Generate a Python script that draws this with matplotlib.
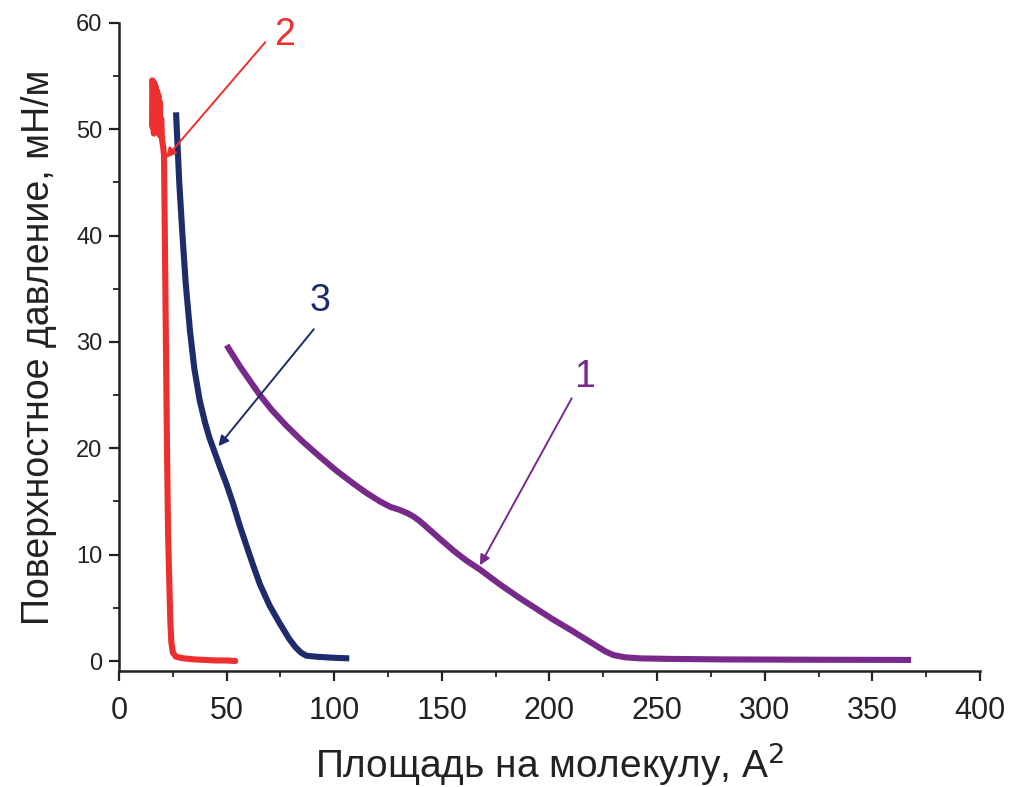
import numpy as np
import matplotlib
matplotlib.use('Agg')
import matplotlib.pyplot as plt
from matplotlib.ticker import MultipleLocator

plt.rcParams['font.family'] = ['Liberation Sans', 'DejaVu Sans']

# ── Isotherm data ───────────────────────────────────────────────────────────
# curve 1 (purple)
area_1 = [50.0, 56.2, 61, 65.5, 71, 77.9, 85, 93.4, 101, 108.8, 115, 121.3, 126,
          130.5, 134, 136.7, 139.5, 142.9, 149, 155.3, 161, 167.7, 177, 186.3,
          194, 201.7, 210, 217.2, 222, 226, 229.7, 235, 242, 255, 280, 320, 368]
press_1 = [29.7, 27.7, 26.3, 25.0, 23.6, 22.1, 20.7, 19.2, 17.9, 16.7, 15.8, 15.0, 14.5,
           14.2, 13.9, 13.6, 13.2, 12.6, 11.5, 10.4, 9.5, 8.6, 7.2, 5.9,
           4.9, 3.9, 2.9, 2.0, 1.4, 0.9, 0.56, 0.35, 0.25, 0.2, 0.15, 0.12, 0.1]

# curve 3 (navy)
area_3 = [26.5, 28, 29.5, 31, 33, 35, 37.5, 40, 42, 44.5, 47, 50, 53, 56, 59.3,
          62.5, 65.5, 70, 74.8, 79, 82, 84.5, 87, 92, 100, 107]
press_3 = [51.6, 45.0, 40.0, 35.5, 31.0, 27.5, 24.5, 22.4, 21.0, 19.6, 18.2, 16.6, 14.8,
           12.8, 10.8, 8.9, 7.2, 5.2, 3.5, 2.1, 1.3, 0.8, 0.5, 0.4, 0.3, 0.25]

# curve 2 (red), noisy collapse region at the top
area_2 = [15.4, 15.6, 15.9, 16.2, 16.5, 16.8, 17.1, 17.4, 17.7, 18.0, 18.3, 18.6,
          18.9, 19.2, 19.6, 20.0, 20.5, 20.9, 21.3, 21.8, 22.3, 22.8, 23.3, 23.8,
          24.3, 25.0, 26.5, 30, 35, 40, 45, 50, 54]
press_2 = [54.6, 50.2, 54.5, 49.6, 54.3, 50.4, 54.0, 49.8, 53.6, 50.2, 53.2, 49.6,
           52.6, 49.4, 51.0, 49.0, 48.4, 47.6, 40.0, 30.0, 20.0, 12.0, 8.0, 4.0,
           1.8, 0.8, 0.4, 0.25, 0.15, 0.1, 0.05, 0.05, 0.0]

# curve labels: text position, arrow tail, arrow head (data units)
LABELS = ['1', '2', '3']
LABEL_XY = {'1': (216.5, 26.7), '2': (77.1, 58.9), '3': (93.4, 33.9)}
TAIL_XY = {'1': (210.3, 24.7), '2': (68, 58.2), '3': (90.5, 31.2)}
HEAD_XY = {'1': (167.7, 9.0), '2': (21.8, 47.3), '3': (46.2, 20.2)}

C_PURPLE = '#782A8A'
C_NAVY = '#1F2C6C'
C_RED = '#EE2F2F'
COLORS = {'1': C_PURPLE, '2': C_RED, '3': C_NAVY}

fig = plt.figure(figsize=(10.11, 7.87), dpi=100)
ax = fig.add_axes([0.1177, 0.1474, 0.8516, 0.8234])

ax.plot(area_1, press_1, color=C_PURPLE, lw=4.4, solid_capstyle='butt',
        solid_joinstyle='round')
ax.plot(area_3, press_3, color=C_NAVY, lw=4.4, solid_capstyle='butt',
        solid_joinstyle='round')
ax.plot(area_2, press_2, color=C_RED, lw=4.4, solid_capstyle='round',
        solid_joinstyle='round')

for lab in LABELS:
    ax.annotate('', xy=HEAD_XY[lab], xytext=TAIL_XY[lab],
                arrowprops=dict(arrowstyle='-|>', color=COLORS[lab], lw=1.4,
                                mutation_scale=15, shrinkA=0, shrinkB=0))
    ax.text(*LABEL_XY[lab], lab, color=COLORS[lab], fontsize=27,
            ha='center', va='center')

ax.set_xlim(0, 400)
ax.set_ylim(-0.94, 60)
ax.xaxis.set_major_locator(MultipleLocator(50))
ax.xaxis.set_minor_locator(MultipleLocator(25))
ax.yaxis.set_major_locator(MultipleLocator(10))
ax.yaxis.set_minor_locator(MultipleLocator(5))
ax.set_yticks(np.arange(0, 61, 10))

ax.spines[['top', 'right']].set_visible(False)
ax.spines[['left', 'bottom']].set_linewidth(1.8)
ax.spines[['left', 'bottom']].set_color('#222222')
ax.tick_params(which='major', direction='out', length=7, width=1.6, color='#222222')
ax.tick_params(which='minor', direction='out', length=4, width=1.3, color='#222222')
ax.tick_params(axis='x', labelsize=22, pad=11, labelcolor='#222222')
ax.tick_params(axis='y', labelsize=17, pad=5, labelcolor='#222222')

ax.set_xlabel('Площадь на молекулу, А$^2$', fontsize=28, labelpad=10, color='#222222')
ax.set_ylabel('Поверхностное давление, мН/м', fontsize=27, labelpad=14, color='#222222')

fig.savefig('out.png', dpi=100)
